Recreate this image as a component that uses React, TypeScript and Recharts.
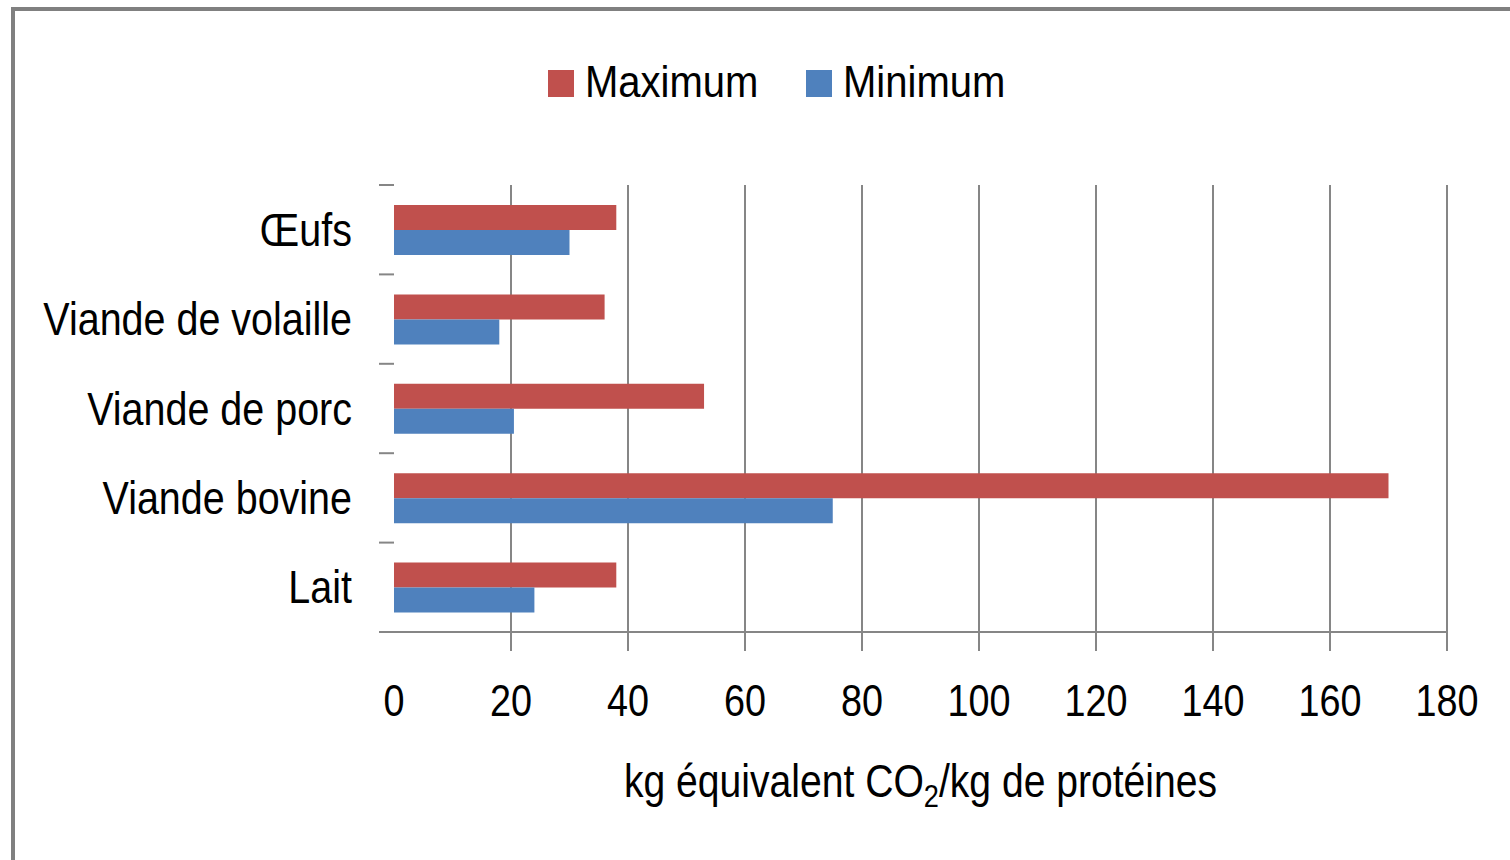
import { Bar, BarChart, CartesianGrid, Legend, XAxis, YAxis } from 'recharts';

const categories = ['Œufs', 'Viande de volaille', 'Viande de porc', 'Viande bovine', 'Lait'];
const maximumValues = [38, 36, 53, 170, 38];
const minimumValues = [30, 18, 20.5, 75, 24];
const valueTicks = [0, 20, 40, 60, 80, 100, 120, 140, 160, 180];
const seriesLabels = ['Maximum', 'Minimum'];

// Liberation Sans squeezed horizontally, stands in for the narrow office font
const FONT = '"Liberation Sans", Arial, sans-serif';
const AXIS_GREY = '#868686';
const MAX_COLOR = '#C0504D';
const MIN_COLOR = '#4F81BD';

// plot area in page pixels
const PLOT_LEFT = 394;
const PLOT_RIGHT = 1447;
const PLOT_TOP = 185;
const PLOT_BOTTOM = 632;
const CHART_W = 1510;
const CHART_H = 860;
const HALF_BAND = (PLOT_BOTTOM - PLOT_TOP) / categories.length / 2;

const chartData = categories.map((name, i) => ({
  name,
  max: maximumValues[i],
  min: minimumValues[i],
}));

function NarrowText({ x, y, anchor, size, squeeze, children }: any) {
  return (
    <text
      transform={`translate(${x},${y}) scale(${squeeze},1)`}
      x={0}
      y={0}
      textAnchor={anchor}
      fontSize={size}
      fontFamily={FONT}
      fill="#000"
    >
      {children}
    </text>
  );
}

function CategoryTick(props: any) {
  const { x, y, payload, index } = props;
  const isLast = index === categories.length - 1;
  return (
    <g>
      <line x1={x - 15} x2={x} y1={y - HALF_BAND} y2={y - HALF_BAND} stroke={AXIS_GREY} strokeWidth={2} />
      {isLast && (
        <line x1={x - 15} x2={x} y1={y + HALF_BAND} y2={y + HALF_BAND} stroke={AXIS_GREY} strokeWidth={2} />
      )}
      <NarrowText x={x - 42} y={y + 16} anchor="end" size={47} squeeze={0.84}>
        {payload.value}
      </NarrowText>
    </g>
  );
}

function ValueTick(props: any) {
  const { x, y, payload } = props;
  return (
    <g>
      {payload.value !== 0 && (
        <line x1={x} x2={x} y1={y} y2={y + 19} stroke={AXIS_GREY} strokeWidth={2} />
      )}
      <NarrowText x={x} y={y + 84} anchor="middle" size={45} squeeze={0.84}>
        {payload.value}
      </NarrowText>
    </g>
  );
}

function AxisTitle(props: any) {
  const vb = props.viewBox ?? { x: PLOT_LEFT, y: PLOT_BOTTOM, width: PLOT_RIGHT - PLOT_LEFT, height: 0 };
  const cx = vb.x + vb.width / 2;
  return (
    <NarrowText x={cx} y={vb.y + 165} anchor="middle" size={46} squeeze={0.85}>
      <tspan>kg équivalent CO</tspan>
      <tspan fontSize={32} dy={10}>2</tspan>
      <tspan dy={-10}>/kg de protéines</tspan>
    </NarrowText>
  );
}

function LegendBlock() {
  const colors = [MAX_COLOR, MIN_COLOR];
  return (
    <svg width={480} height={52} style={{ display: 'block' }}>
      {seriesLabels.map((label, i) => (
        <g key={label} transform={`translate(${i * 258},0)`}>
          <rect x={0} y={12} width={26} height={27} fill={colors[i]} />
          <NarrowText x={37} y={39} anchor="start" size={44} squeeze={0.91}>
            {label}
          </NarrowText>
        </g>
      ))}
    </svg>
  );
}

export default function App() {
  return (
    <div style={{ position: 'fixed', left: 0, top: 0, width: CHART_W, height: CHART_H, overflow: 'hidden', background: '#fff' }}>
      <div
        style={{
          position: 'absolute',
          left: 11,
          top: 7,
          width: 1700,
          height: 1000,
          borderLeft: '4px solid #808080',
          borderTop: '4px solid #808080',
        }}
      />
      <div style={{ position: 'absolute', left: 0, top: 0 }}>
        <BarChart
          width={CHART_W}
          height={CHART_H}
          data={chartData}
          layout="vertical"
          margin={{ top: PLOT_TOP, right: CHART_W - PLOT_RIGHT, bottom: CHART_H - PLOT_BOTTOM - 200, left: 0 }}
          barGap={0}
          barSize={25}
        >
          <CartesianGrid horizontal={false} stroke={AXIS_GREY} strokeWidth={2} verticalValues={valueTicks.slice(1)} />
          <XAxis
            type="number"
            domain={[0, 180]}
            ticks={valueTicks}
            height={200}
            axisLine={{ stroke: AXIS_GREY, strokeWidth: 2 }}
            tickLine={false}
            tickSize={0}
            tickMargin={0}
            tick={<ValueTick />}
            interval={0}
            label={{ content: (p: any) => <AxisTitle {...p} /> }}
          />
          <YAxis
            type="category"
            dataKey="name"
            width={PLOT_LEFT}
            axisLine={false}
            tickLine={false}
            tickSize={0}
            tickMargin={0}
            tick={<CategoryTick />}
            interval={0}
          />
          <Legend
            verticalAlign="middle"
            align="center"
            layout="horizontal"
            wrapperStyle={{ top: 58, left: 548, width: 'auto' }}
            content={() => <LegendBlock />}
          />
          <Bar dataKey="max" name={seriesLabels[0]} fill={MAX_COLOR} isAnimationActive={false} />
          <Bar dataKey="min" name={seriesLabels[1]} fill={MIN_COLOR} isAnimationActive={false} />
        </BarChart>
      </div>
    </div>
  );
}
